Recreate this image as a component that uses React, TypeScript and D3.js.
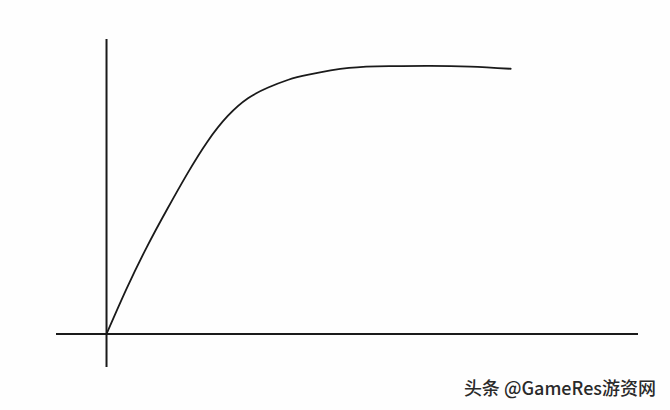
import * as d3 from "d3";
import { useEffect, useRef } from "react";

// readings of the curve (time vs. level, level 100 = plateau)
const times = [0, 1, 2, 3, 4, 5, 6, 7, 8, 9, 10, 12, 14, 16, 18, 20];
const levels = [0, 17, 32.5, 46.5, 59.8, 71.8, 81.3, 87.9, 91.9, 94.8, 96.7, 99.2, 99.9, 100, 99.7, 98.9];

const xDomain = [-2.5, 26.3];
const yDomain = [-12.3, 110];
const watermark = "头条 @GameRes游资网";

const W = 670;
const H = 410;

const App = () => {
  const ref = useRef<SVGSVGElement | null>(null);

  useEffect(() => {
    if (!ref.current) return;
    const svg = d3.select(ref.current);
    svg.selectAll("*").remove();

    const x = d3.scaleLinear().domain(xDomain).range([56, 638]);
    const y = d3.scaleLinear().domain(yDomain).range([367, 39]);

    svg.append("rect").attr("width", W).attr("height", H).attr("fill", "#fefefe");

    // axes, plain lines crossing at origin
    svg
      .append("line")
      .attr("x1", x(xDomain[0]))
      .attr("x2", x(xDomain[1]))
      .attr("y1", y(0))
      .attr("y2", y(0))
      .attr("stroke", "#1a1a1a")
      .attr("stroke-width", 2);
    svg
      .append("line")
      .attr("x1", x(0))
      .attr("x2", x(0))
      .attr("y1", y(yDomain[0]))
      .attr("y2", y(yDomain[1]))
      .attr("stroke", "#1a1a1a")
      .attr("stroke-width", 2);

    const data = times.map((t, i) => ({ t, v: levels[i] }));
    const line = d3
      .line<{ t: number; v: number }>()
      .x((d) => x(d.t))
      .y((d) => y(d.v))
      .curve(d3.curveNatural);

    svg
      .append("path")
      .datum(data)
      .attr("d", line)
      .attr("fill", "none")
      .attr("stroke", "#1a1a1a")
      .attr("stroke-width", 1.8)
      .attr("stroke-linecap", "round");

    svg
      .append("text")
      .attr("x", 656)
      .attr("y", 395)
      .attr("text-anchor", "end")
      .attr("font-family", "'Noto Sans CJK SC', 'Noto Sans', sans-serif")
      .attr("font-size", 18)
      .attr("font-weight", 500)
      .attr("fill", "#2a2a2a")
      .text(watermark);
  }, []);

  return (
    <div style={{ position: "absolute", left: 0, top: 0 }}>
      <svg ref={ref} width={W} height={H} style={{ display: "block" }} />
    </div>
  );
};

export default App;
